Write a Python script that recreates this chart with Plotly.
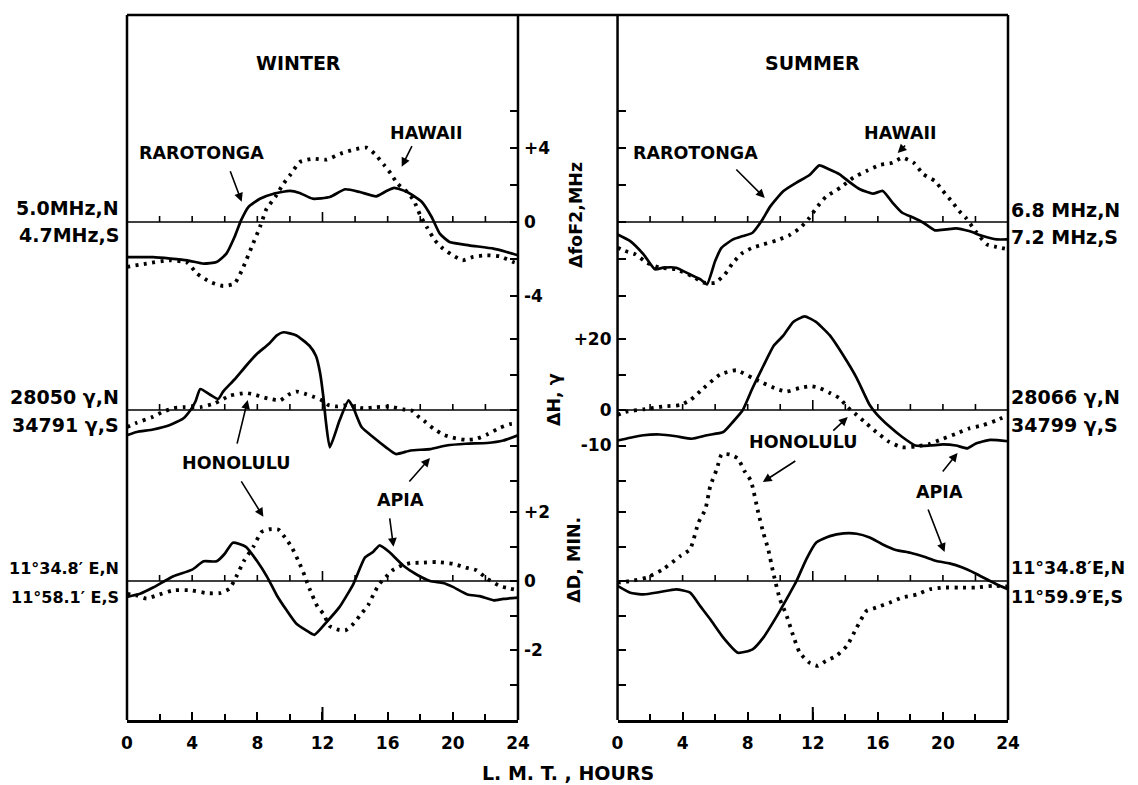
import plotly.graph_objects as go

# ---------------- DATA ----------------
# Winter, Delta foF2 (MHz): Rarotonga (solid, S) and Hawaii (dotted, N)
w_rar_h = [0, 1.6, 3.7, 4.7, 5.5, 6.1, 6.6, 7.0, 7.45, 8.16, 9.0, 10.0, 10.6, 11.4, 12.45, 13.4, 14.3, 15.3,
           15.9, 16.4, 17.2, 18.1, 18.7, 19.2, 19.8, 21.0, 22.5, 23.3, 24]
w_rar_v = [-1.9, -1.9, -2.07, -2.25, -2.16, -1.71, -0.81, 0.09, 0.81, 1.26, 1.53, 1.68, 1.57, 1.26, 1.35, 1.77,
           1.62, 1.39, 1.66, 1.84, 1.62, 1.08, 0.27, -0.63, -1.08, -1.26, -1.44, -1.62, -1.8]
w_haw_h = [0, 1.2, 2.6, 3.7, 4.3, 5.1, 5.9, 6.6, 7.1, 7.65, 8.16, 8.57, 9.1, 9.6, 10.0, 10.6, 11.4, 12.25, 13.1,
           13.9, 14.7, 15.2, 15.8, 16.2, 16.6, 17.2, 17.6, 18.0, 18.4, 18.9, 19.4, 20.0, 20.6, 21.25, 22.1, 22.9,
           23.7, 24]
w_haw_v = [-2.43, -2.25, -2.07, -2.2, -2.79, -3.24, -3.46, -3.33, -2.52, -1.35, -0.27, 0.72, 1.35, 2.07, 2.52,
           3.24, 3.42, 3.37, 3.69, 3.91, 4.02, 3.69, 3.06, 2.61, 2.07, 1.62, 1.17, 0.36, -0.27, -0.99, -1.44, -1.8,
           -2.07, -1.89, -1.8, -1.86, -2.16, -2.25]

# Summer, Delta foF2 (MHz)
s_rar_h = [0, 0.78, 1.6, 2.3, 2.8, 3.6, 4.45, 5.1, 5.5, 6.0, 6.4, 7.1, 7.7, 8.3, 8.85, 9.4, 10.2, 11.0, 11.8,
           12.4, 13.0, 13.65, 14.3, 14.9, 15.7, 16.3, 16.9, 17.5, 18.2, 18.8, 19.5, 20.2, 20.8, 21.6, 22.45, 23.3,
           24]
s_rar_v = [-0.67, -1.03, -1.75, -2.56, -2.47, -2.47, -2.83, -3.1, -3.37, -2.11, -1.39, -0.94, -0.76, -0.58, 0.05,
           0.86, 1.68, 2.13, 2.54, 3.06, 2.85, 2.58, 2.13, 1.77, 1.53, 1.68, 1.05, 0.5, 0.23, -0.04, -0.45, -0.4,
           -0.34, -0.49, -0.76, -0.94, -0.94]
s_haw_h = [0, 0.47, 1.1, 1.8, 2.6, 3.6, 4.56, 5.3, 6.0, 6.6, 7.1, 7.7, 8.3, 8.96, 9.8, 10.6, 11.2, 11.8, 12.2,
           12.8, 13.7, 14.5, 15.3, 16.1, 16.9, 17.5, 18.2, 18.8, 19.5, 20.0, 20.6, 21.0, 21.4, 22.0, 22.7, 23.3, 24]
s_haw_v = [-1.39, -1.57, -1.75, -2.2, -2.47, -2.56, -2.92, -3.28, -3.28, -2.83, -2.2, -1.66, -1.39, -1.21, -0.99,
           -0.7, -0.34, 0.23, 0.74, 1.35, 1.86, 2.4, 2.76, 3.08, 3.2, 3.48, 3.2, 2.58, 2.22, 1.68, 1.05, 0.59, 0.23,
           -0.49, -1.21, -1.35, -1.48]

# Winter, Delta H (gamma): Apia (solid, S) and Honolulu (dotted, N)
w_apiaH_h = [0, 0.6, 1.6, 2.6, 3.45, 3.9, 4.2, 4.5, 5.1, 5.6, 5.9, 6.6, 7.3, 7.95, 8.7, 9.2, 9.6, 10.4, 11.2,
             11.6, 11.85, 12.05, 12.2, 12.45, 13.05, 13.6, 13.9, 14.4, 15.1, 15.9, 16.5, 17.4, 18.6, 19.6, 20.8,
             22.1, 23.1, 24]
w_apiaH_v = [-7.1, -6.2, -5.5, -4.3, -2.4, 0, 2.4, 5.9, 4.3, 3.1, 5.2, 8.6, 12.4, 15.7, 18.6, 21, 21.9, 21, 18.1,
             15.2, 10.5, 3.8, -2.9, -10.5, -2.9, 2.7, 0.5, -4.8, -7.6, -10.5, -12.4, -11.4, -11, -10, -9.5, -9.3,
             -8.6, -7.1]
w_honH_h = [0, 0.6, 1.6, 2.2, 2.85, 3.45, 4.5, 5.4, 6.3, 7.3, 7.85, 8.36, 8.9, 9.4, 9.9, 10.4, 10.9, 11.4, 11.9,
            12.35, 12.9, 13.5, 13.9, 14.5, 15.3, 16.1, 16.95, 17.5, 17.9, 18.3, 18.8, 19.4, 20.0, 20.8, 21.45,
            22.1, 22.9, 23.5, 24]
w_honH_v = [-4.8, -3.6, -1.9, -0.5, 0.5, 0.8, 0.8, 1.9, 4.0, 4.8, 4.3, 3.6, 3.0, 2.7, 4.3, 5.2, 4.6, 3.8, 2.9,
            1.4, 1.0, 1.4, 1.0, 0.5, 0.8, 1.0, 0.2, -0.2, -1.9, -3.3, -5.2, -6.9, -7.8, -8.4, -8.1, -6.9, -5.0,
            -4.0, -3.8]

# Summer, Delta H (gamma)
s_apiaH_h = [0, 0.78, 1.6, 2.6, 3.6, 4.56, 5.5, 6.5, 7.1, 7.7, 8.3, 8.96, 9.6, 10.2, 10.8, 11.5, 12.2, 13.05,
             13.9, 14.7, 15.5, 15.9, 16.7, 17.5, 18.3, 19.2, 20.0, 20.8, 21.5, 22.0, 22.9, 24]
s_apiaH_v = [-8.6, -7.8, -7.1, -6.9, -7.4, -8.1, -7.1, -6.2, -3.3, 0, 6.2, 12.4, 18.1, 21, 24.8, 26.4, 24.8, 21,
             15.2, 9.0, 1.4, -1.0, -4.6, -7.6, -10, -10, -9.7, -10, -10.8, -9.5, -8.4, -8.8]
s_honH_h = [0, 0.5, 1.6, 2.8, 3.85, 4.5, 5.3, 6.3, 7.3, 8.3, 8.96, 9.8, 10.4, 11.2, 11.9, 12.4, 13.05, 13.65,
            14.1, 14.7, 15.3, 15.9, 16.7, 17.5, 18.3, 19.2, 20.0, 20.8, 21.6, 22.45, 23.3, 24]
s_honH_v = [-1.4, -0.5, 0.2, 1.0, 1.4, 2.9, 6.2, 10, 11.2, 9.0, 7.6, 5.9, 5.2, 6.2, 6.7, 6.2, 4.8, 3.3, 1.0,
            -1.4, -3.8, -6.2, -9.0, -10.5, -10.3, -9.5, -8.1, -6.7, -5.2, -4.3, -2.9, -1.4]

# Winter, Delta D (min)
w_apiaD_h = [0, 0.8, 1.6, 2.2, 2.85, 4.0, 4.7, 5.5, 6.0, 6.5, 7.3, 7.95, 8.6, 9.2, 9.8, 10.4, 11.0, 11.5, 12.25,
             13.05, 13.9, 14.6, 15.1, 15.5, 16.1, 16.95, 17.8, 18.6, 19.4, 20.0, 20.9, 21.65, 22.5, 23.1, 24]
w_apiaD_v = [-0.46, -0.37, -0.19, -0.03, 0.14, 0.33, 0.57, 0.57, 0.79, 1.11, 0.99, 0.6, 0.12, -0.42, -0.85, -1.24,
             -1.43, -1.56, -1.19, -0.75, -0.08, 0.68, 0.84, 1.03, 0.84, 0.45, 0.18, 0.0, -0.06, -0.17, -0.39, -0.44,
             -0.56, -0.52, -0.48]
w_honD_h = [0, 0.6, 1.2, 1.8, 2.85, 3.9, 4.9, 5.7, 6.3, 6.7, 7.2, 7.75, 8.26, 8.77, 9.3, 9.7, 10.1, 10.6, 10.9,
            11.2, 11.7, 12.05, 12.45, 12.95, 13.4, 13.9, 14.3, 14.8, 15.2, 15.5, 15.9, 16.3, 16.85, 17.4, 18.0,
            19.0, 20.0, 20.8, 21.45, 22.1, 22.9, 23.5, 24]
w_honD_v = [-0.37, -0.42, -0.51, -0.42, -0.27, -0.27, -0.35, -0.35, -0.22, 0.12, 0.6, 0.99, 1.42, 1.5, 1.49,
            1.26, 0.99, 0.5, 0.16, -0.22, -0.75, -0.95, -1.31, -1.41, -1.43, -1.24, -1.0, -0.7, -0.32, -0.08, 0.12,
            0.31, 0.45, 0.52, 0.53, 0.55, 0.5, 0.39, 0.31, 0.07, -0.15, -0.22, -0.27]

# Summer, Delta D (min)
s_apiaD_h = [0, 0.78, 1.6, 2.6, 3.6, 4.46, 5.07, 5.7, 6.5, 7.4, 8.3, 8.96, 9.8, 10.5, 11.0, 11.6, 12.2, 13.05,
             13.9, 14.7, 15.5, 16.3, 17.1, 18.0, 18.8, 19.6, 20.4, 21.2, 22.0, 22.9, 23.5, 24]
s_apiaD_v = [-0.14, -0.34, -0.39, -0.32, -0.24, -0.34, -0.72, -1.11, -1.64, -2.08, -1.98, -1.64, -1.01, -0.43, 0.0,
             0.63, 1.11, 1.3, 1.38, 1.37, 1.26, 1.06, 0.9, 0.82, 0.71, 0.58, 0.51, 0.39, 0.22, 0.0, -0.14, -0.24]
s_honD_h = [0, 0.8, 1.8, 2.8, 3.85, 4.46, 4.97, 5.4, 5.7, 6.1, 6.4, 6.9, 7.4, 7.8, 8.2, 8.65, 8.96, 9.26, 9.57,
            9.98, 10.4, 10.8, 11.2, 11.8, 12.3, 12.8, 13.45, 14.1, 14.7, 15.3, 15.9, 16.7, 17.5, 18.4, 19.2, 20.0,
            21.0, 22.0, 23.1, 24]
s_honD_v = [-0.05, 0.0, 0.1, 0.34, 0.72, 0.92, 1.69, 2.08, 2.75, 3.24, 3.67, 3.67, 3.55, 3.19, 2.9, 1.98, 1.4,
            0.92, 0.24, -0.53, -1.01, -1.59, -2.08, -2.37, -2.46, -2.32, -2.17, -1.88, -1.35, -0.87, -0.77, -0.63,
            -0.48, -0.39, -0.24, -0.19, -0.19, -0.19, -0.14, -0.16]

# axis ticks / labels
hour_labels = [0, 4, 8, 12, 16, 20, 24]
hour_minor = [2, 6, 10, 14, 18, 22]
zero_ticks = [2, 4, 6, 8, 10, 12, 14, 16, 18, 20, 22]
f_ticks = [-4, -2, 0, 2, 4, 6]
f_text = ['-4', '', '0', '', '+4', '']
h_ticks = [-20, -10, 0, 10, 20]
h_text = ['', '-10', '0', '', '+20']
d_ticks = [-3, -2, -1, 0, 1, 2]
d_text = ['', '-2', '', '0', '', '+2']

# (axis, text, vertical offset px, font size)
left_labels = [('y', '5.0MHz,N', 14, 19), ('y', '4.7MHz,S', -13, 19),
               ('y2', '28050 γ,N', 13, 19), ('y2', '34791 γ,S', -15, 19),
               ('y3', '11°34.8′ E,N', 13, 16), ('y3', '11°58.1′ E,S', -16, 16)]
right_labels = [('y4', '6.8 MHz,N', 12, 19), ('y4', '7.2 MHz,S', -15, 19),
                ('y5', '28066 γ,N', 13, 19), ('y5', '34799 γ,S', -15, 19),
                ('y6', '11°34.8′E,N', 13, 17.5), ('y6', '11°59.9′E,S', -16, 17.5)]

# ---------------- FIGURE ----------------
FONT = 'DejaVu Sans'
TICKF = dict(family=FONT, size=17, color='black', weight='bold')
LBL = dict(family=FONT, size=17.5, color='black', weight='bold')
W_DOM = [0, 0.4438]
S_DOM = [0.5568, 1]
F_RANGE = [-26.92, 11.19]
H_RANGE = [-87.32, 111.27]
D_RANGE = [-4.029, 16.406]

fig = go.Figure()

solid = dict(color='black', width=2.7)
dotted = dict(color='black', width=3.8, dash='3px,5.5px')

series = [
    (w_rar_h, w_rar_v, 'x', 'y', solid), (w_haw_h, w_haw_v, 'x', 'y', dotted),
    (s_rar_h, s_rar_v, 'x2', 'y4', solid), (s_haw_h, s_haw_v, 'x2', 'y4', dotted),
    (w_apiaH_h, w_apiaH_v, 'x', 'y2', solid), (w_honH_h, w_honH_v, 'x', 'y2', dotted),
    (s_apiaH_h, s_apiaH_v, 'x2', 'y5', solid), (s_honH_h, s_honH_v, 'x2', 'y5', dotted),
    (w_apiaD_h, w_apiaD_v, 'x', 'y3', solid), (w_honD_h, w_honD_v, 'x', 'y3', dotted),
    (s_apiaD_h, s_apiaD_v, 'x2', 'y6', solid), (s_honD_h, s_honD_v, 'x2', 'y6', dotted),
]
for hx, vy, xa, ya, ln in series:
    fig.add_trace(go.Scatter(x=hx, y=vy, mode='lines', line=dict(shape='spline', smoothing=0.5, **ln),
                             xaxis=xa, yaxis=ya, hoverinfo='skip'))

xcommon = dict(range=[0, 24], showgrid=False, zeroline=False, showline=True, linewidth=2.5, linecolor='black',
               ticks='inside', tickvals=hour_labels, ticklen=8, tickwidth=2, tickcolor='black',
               minor=dict(tickvals=hour_minor, ticks='inside', ticklen=6, tickwidth=2, tickcolor='black'),
               tickfont=TICKF, ticklabelstandoff=6, fixedrange=True)
ycommon = dict(showgrid=False, zeroline=False, showline=False, ticks='inside', ticklen=8, tickwidth=2,
               tickcolor='black', tickfont=TICKF, ticklabelstandoff=5, domain=[0, 1], fixedrange=True)

# the page body adds an 8px offset, so the figure is 8px smaller than the window
fig.update_layout(
    width=1130, height=777, margin=dict(l=119, r=130, t=7, b=65),
    paper_bgcolor='white', plot_bgcolor='white', showlegend=False,
    xaxis=dict(domain=W_DOM, anchor='y', **xcommon),
    xaxis2=dict(domain=S_DOM, anchor='y4', **xcommon),
    yaxis=dict(anchor='x', side='right', range=F_RANGE, tickvals=f_ticks, ticktext=f_text, **ycommon),
    yaxis2=dict(anchor='x', side='right', overlaying='y', range=H_RANGE, tickvals=h_ticks,
                showticklabels=False, **ycommon),
    yaxis3=dict(anchor='x', side='right', overlaying='y', range=D_RANGE, tickvals=d_ticks, ticktext=d_text,
                **ycommon),
    yaxis4=dict(anchor='x2', side='left', range=F_RANGE, tickvals=f_ticks,
                showticklabels=False, **ycommon),
    yaxis5=dict(anchor='x2', side='left', overlaying='y4', range=H_RANGE, tickvals=h_ticks, ticktext=h_text,
                **ycommon),
    yaxis6=dict(anchor='x2', side='left', overlaying='y4', range=D_RANGE, tickvals=d_ticks,
                showticklabels=False, **ycommon),
)

shapes = []
frame = dict(type='line', xref='paper', yref='paper', line=dict(color='black', width=2.5))
shapes.append(dict(x0=0, x1=1, y0=1, y1=1, **frame))
for xp in [0, W_DOM[1], S_DOM[0], 1]:
    shapes.append(dict(x0=xp, x1=xp, y0=0, y1=1, **frame))
for xa in ['x', 'x2']:
    shapes.append(dict(type='line', xref=xa, yref='paper', x0=12, x1=12, y0=0, y1=13 / 705,
                       line=dict(color='black', width=2)))
for xa, ya in [('x', 'y'), ('x', 'y2'), ('x', 'y3'), ('x2', 'y4'), ('x2', 'y5'), ('x2', 'y6')]:
    shapes.append(dict(type='line', xref=xa, yref=ya, x0=0, x1=24, y0=0, y1=0,
                       line=dict(color='black', width=1.6)))
    for h in zero_ticks:
        shapes.append(dict(type='line', xref=xa, yref=ya, ysizemode='pixel', yanchor=0,
                           x0=h, x1=h, y0=0, y1=10 if h == 12 else 6,
                           line=dict(color='black', width=1.6)))
fig.update_layout(shapes=shapes)

ann = []
TITLEF = dict(family=FONT, size=19, color='black', weight='bold')
ann.append(dict(text='WINTER', xref='x', x=10.5, yref='paper', y=0.9504, showarrow=False, font=TITLEF))
ann.append(dict(text='SUMMER', xref='x2', x=12.0, yref='paper', y=0.9504, showarrow=False, font=TITLEF))
for txt, xa, ya, hx, vy in [('RAROTONGA', 'x', 'y', 4.6, 3.73), ('HAWAII', 'x', 'y', 18.4, 4.81),
                            ('RAROTONGA', 'x2', 'y4', 4.82, 3.73), ('HAWAII', 'x2', 'y4', 17.4, 4.81),
                            ('HONOLULU', 'x', 'y2', 6.75, -14.9), ('APIA', 'x', 'y2', 16.8, -25.4),
                            ('HONOLULU', 'x2', 'y5', 11.4, -9.0), ('APIA', 'x2', 'y5', 19.8, -23.1)]:
    ann.append(dict(text=txt, xref=xa, yref=ya, x=hx, y=vy, showarrow=False, font=LBL))
for xa, ya, hx, vy, ax, ay in [('x', 'y', 7.04, 1.1, -12, -32), ('x', 'y', 16.86, 2.99, 11, -22),
                               ('x2', 'y4', 9.05, 1.3, -30, -30), ('x2', 'y4', 17.22, 3.73, 9, -9),
                               ('x', 'y2', 7.41, 2.8, -11, 45), ('x', 'y3', 8.37, 1.86, -23, -37),
                               ('x', 'y2', 18.6, -13.5, -22, 25), ('x', 'y3', 16.36, 0.99, -4, -30),
                               ('x2', 'y5', 14.15, -2.0, -16, 15), ('x2', 'y6', 8.93, 2.87, 34, -22),
                               ('x2', 'y5', 20.9, -12.1, -16, 20), ('x2', 'y6', 20.1, 0.84, -17, -44)]:
    ann.append(dict(text='', xref=xa, yref=ya, x=hx, y=vy, ax=ax, ay=ay, axref='pixel', ayref='pixel',
                    showarrow=True, arrowhead=2, arrowsize=1.1, arrowwidth=1.6, arrowcolor='black'))
for ya, txt, sh, fs in left_labels:
    ann.append(dict(text=txt, xref='paper', x=0, xanchor='right', xshift=-6, yref=ya, y=0, yanchor='middle',
                    yshift=sh, showarrow=False, font=dict(LBL, size=fs)))
for ya, txt, sh, fs in right_labels:
    ann.append(dict(text=txt, xref='paper', x=1, xanchor='left', xshift=1, yref=ya, y=0, yanchor='middle',
                    yshift=sh, showarrow=False, font=dict(LBL, size=fs)))
for txt, xp, ya, vy in [('ΔfoF2,MHz', 0.509, 'y', 0.4), ('ΔH, γ', 0.4855, 'y2', 3.0),
                        ('ΔD, MIN.', 0.508, 'y3', 0.6)]:
    ann.append(dict(text=txt, xref='paper', x=xp, yref=ya, y=vy, textangle=-90, showarrow=False, font=LBL))
ann.append(dict(text='L. M. T. , HOURS', xref='paper', x=0.5, yref='paper', y=-0.075, yanchor='middle',
                showarrow=False, font=dict(family=FONT, size=19, color='black', weight='bold')))
fig.update_layout(annotations=ann)

fig.write_html('out.html')
